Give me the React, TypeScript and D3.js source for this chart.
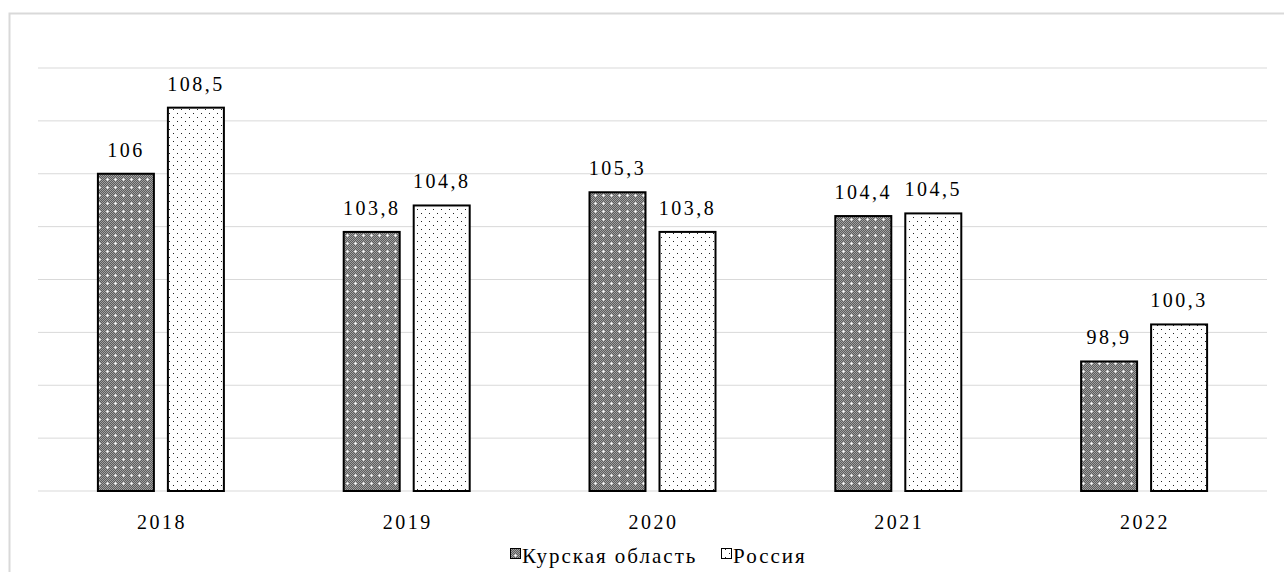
import React from "react";
import * as d3 from "d3";

const years = ["2018", "2019", "2020", "2021", "2022"];
const kursk = [106, 103.8, 105.3, 104.4, 98.9];
const russia = [108.5, 104.8, 103.8, 104.5, 100.3];
const seriesNames = ["Курская область", "Россия"];
const yTicks = [94, 96, 98, 100, 102, 104, 106, 108, 110];

const W = 1284, H = 572;
const left = 38, right = 1267, top = 68, bottom = 491;

const fmt = (v: number) => String(v).replace(".", ",");

export default function App() {
  const x = d3.scaleBand<string>().domain(years).range([left, right]);
  const y = d3.scaleLinear().domain([94, 110]).range([bottom, top]);
  const bw = 56;
  const gap = 14;
  const fontStyle = { fontFamily: "'Liberation Serif', 'Times New Roman', serif" };
  const series = [kursk, russia];
  return (
    <svg width={W} height={H} style={{ position: "absolute", left: 0, top: 0, background: "#fff" }}>
      <defs>
        <pattern id="dark" width="2" height="2" patternUnits="userSpaceOnUse">
          <rect width="2" height="2" fill="#5c5c5c" />
          <rect x="0" y="0" width="1" height="1" fill="#a0a0a0" />
          <rect x="1" y="1" width="1" height="1" fill="#a0a0a0" />
        </pattern>
        <pattern id="darkplus" width="8" height="8" patternUnits="userSpaceOnUse">
          <rect width="8" height="8" fill="url(#dark)" />
          <rect x="3" y="3" width="1" height="1" fill="#fff" />
          <rect x="2" y="3" width="1" height="1" fill="#e0e0e0" />
          <rect x="4" y="3" width="1" height="1" fill="#e0e0e0" />
          <rect x="3" y="2" width="1" height="1" fill="#e0e0e0" />
          <rect x="3" y="4" width="1" height="1" fill="#e0e0e0" />
        </pattern>
        <pattern id="light" width="8" height="8" patternUnits="userSpaceOnUse">
          <rect width="8" height="8" fill="#fff" />
          <rect x="1" y="1" width="1" height="1" fill="#222" />
          <rect x="5" y="5" width="1" height="1" fill="#222" />
        </pattern>
      </defs>
      <rect x={9.5} y={13.5} width={W} height={H} fill="none" stroke="#d9d9d9" strokeWidth={2} />
      {yTicks.map((t) => (
        <line key={t} x1={left} x2={right} y1={y(t)} y2={y(t)} stroke="#d9d9d9" strokeWidth={1} />
      ))}
      {years.map((yr, i) => {
        const c = x(yr)! + x.bandwidth() / 2;
        return (
          <g key={yr}>
            {series.map((s, j) => {
              const bx = j === 0 ? c - gap / 2 - bw : c + gap / 2;
              const v = s[i];
              return (
                <g key={j}>
                  <rect x={bx} y={y(v)} width={bw} height={bottom - y(v)}
                    fill={j === 0 ? "url(#darkplus)" : "url(#light)"} stroke="#000" strokeWidth={2} />
                  <text x={bx + bw / 2} y={y(v) - 17} textAnchor="middle" style={fontStyle}
                    fontSize={20} letterSpacing={2.5} fill="#000">{fmt(v)}</text>
                </g>
              );
            })}
            <text x={c + 1} y={529} textAnchor="middle" style={fontStyle} fontSize={20} letterSpacing={2.5} fill="#000">{yr}</text>
          </g>
        );
      })}
      <g fontSize={21} letterSpacing={2} fill="#000">
        <rect x={510.5} y={548.5} width={10} height={10} fill="url(#darkplus)" stroke="#000" strokeWidth={1} />
        <text x={522} y={563} style={fontStyle}>{seriesNames[0]}</text>
        <rect x={721.5} y={548.5} width={10} height={10} fill="url(#light)" stroke="#000" strokeWidth={1} />
        <text x={733} y={563} style={fontStyle}>{seriesNames[1]}</text>
      </g>
    </svg>
  );
}
